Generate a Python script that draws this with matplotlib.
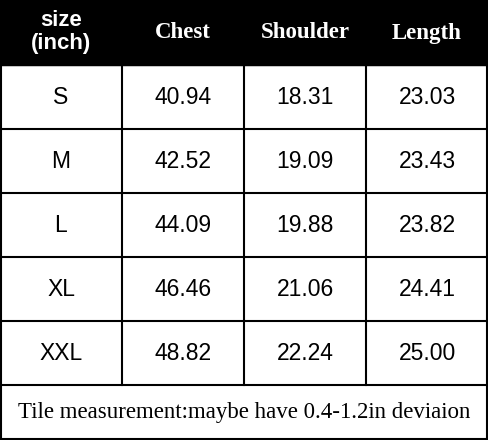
import matplotlib

matplotlib.use("Agg")
import matplotlib.pyplot as plt
from matplotlib.patches import Rectangle

sizes = ["S", "M", "L", "XL", "XXL"]
chest = ["40.94", "42.52", "44.09", "46.46", "48.82"]
shoulder = ["18.31", "19.09", "19.88", "21.06", "22.24"]
length = ["23.03", "23.43", "23.82", "24.41", "25.00"]
headers = ["Chest", "Shoulder", "Length"]
note = "Tile measurement:maybe have 0.4-1.2in deviaion"

W, H = 488, 440
col_x = [0, 122, 244, 366, 488]
row_y = [0, 65, 129, 193, 257, 321, 385, 440]

fig = plt.figure(figsize=(W / 100, H / 100), dpi=100)
ax = fig.add_axes([0, 0, 1, 1])
ax.set_xlim(0, W)
ax.set_ylim(H, 0)
ax.axis("off")

# black header band
ax.add_patch(Rectangle((0, 0), W, row_y[1], color="black"))
ax.text(61, 32, "size\n(inch)", ha="center", va="center", color="white",
        fontsize=16, fontweight="bold", family="Liberation Sans", linespacing=1.1)
for i, h in enumerate(headers):
    cx = (col_x[i + 1] + col_x[i + 2]) / 2
    ax.text(cx, 33, h, ha="center", va="center", color="white",
            fontsize=16.5, fontweight="bold", family="Liberation Serif")

# body rows
for r, row in enumerate(zip(sizes, chest, shoulder, length)):
    cy = (row_y[r + 1] + row_y[r + 2]) / 2
    for c, val in enumerate(row):
        cx = (col_x[c] + col_x[c + 1]) / 2
        ax.text(cx, cy, val, ha="center", va="center", color="black",
                fontsize=16.5, family="Liberation Sans")

ax.text(W / 2, (row_y[6] + row_y[7]) / 2, note, ha="center", va="center",
        fontsize=16.5, family="Liberation Serif")

# grid lines
lw = 1.5
for y in row_y[1:-1]:
    ax.plot([0, W], [y, y], color="black", lw=lw)
for x in col_x[1:-1]:
    ax.plot([x, x], [row_y[1], row_y[6]], color="black", lw=lw)
ax.add_patch(Rectangle((1, 1), W - 2, H - 2, fill=False, ec="black", lw=lw))

fig.savefig("out.png", dpi=100)
